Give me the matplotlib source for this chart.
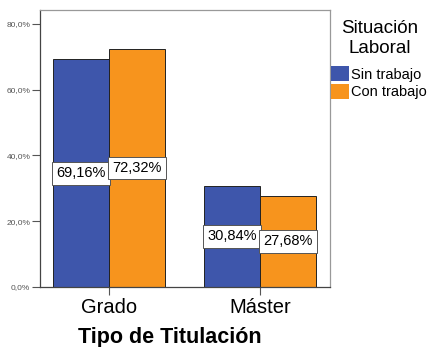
import matplotlib.pyplot as plt
import matplotlib.ticker as mticker
import numpy as np

plt.rcParams['font.family'] = ['Liberation Sans', 'DejaVu Sans']

categorias = ['Grado', 'Máster']
series = ['Sin trabajo', 'Con trabajo']
sin_trabajo = [69.16, 30.84]
con_trabajo = [72.32, 27.68]
colores = ['#3e56ab', '#f7941d']

fig = plt.figure(figsize=(4.32, 3.47), dpi=100)
ax = fig.add_axes([40/432, 1 - 287/347, 290/432, 277/347])

x = np.arange(len(categorias))
w = 0.368
for off, vals, col, lab in [(-w/2, sin_trabajo, colores[0], series[0]),
                            (w/2, con_trabajo, colores[1], series[1])]:
    bars = ax.bar(x + off, vals, width=w, color=col, edgecolor='#222222',
                  linewidth=0.7, label=lab)
    for b, v in zip(bars, vals):
        ax.text(b.get_x() + b.get_width()/2, v/2, f'{v:.2f}%'.replace('.', ','),
                ha='center', va='center', fontsize=10.5, color='black',
                bbox=dict(boxstyle='square,pad=0.3', fc='white', ec='#555555', lw=0.7))

ax.set_xlim(-0.457, 1.464)
ax.set_ylim(0, 84.2)
ax.set_yticks([0, 20, 40, 60, 80])
ax.yaxis.set_major_formatter(mticker.FuncFormatter(lambda v, p: f'{v:.1f}%'.replace('.', ',')))
ax.tick_params(axis='y', labelsize=6, labelcolor='#555555', length=6, width=0.8,
               color='#555555', pad=1)
ax.set_xticks(x)
ax.set_xticklabels(categorias, fontsize=14.5)
ax.tick_params(axis='x', length=6, width=0.8, color='#555555', pad=2)
ax.set_xlabel('Tipo de Titulación', fontsize=15.5, fontweight='bold', va='baseline')
ax.xaxis.set_label_coords((170 - 40) / 290, (287 - 343) / 277)

for s in ['left', 'bottom']:
    ax.spines[s].set_color('#444444')
    ax.spines[s].set_linewidth(0.9)
for s in ['top', 'right']:
    ax.spines[s].set_color('#999999')
    ax.spines[s].set_linewidth(0.9)

# legend title drawn separately so its spacing can follow the reference
fig.text(380/432, 1 - 33/347, 'Situación', ha='center', va='baseline', fontsize=13.5)
fig.text(380/432, 1 - 53/347, 'Laboral', ha='center', va='baseline', fontsize=13.5)

leg = fig.legend(loc='upper left', bbox_to_anchor=(331/432, 1 - 66/347),
                 fontsize=10.5, frameon=False, borderpad=0, borderaxespad=0,
                 handlelength=1.25, handleheight=1.25, handletextpad=0.1,
                 labelspacing=0.15)
for h in leg.legend_handles:
    h.set_edgecolor('none')

fig.savefig('out.png', dpi=100)
